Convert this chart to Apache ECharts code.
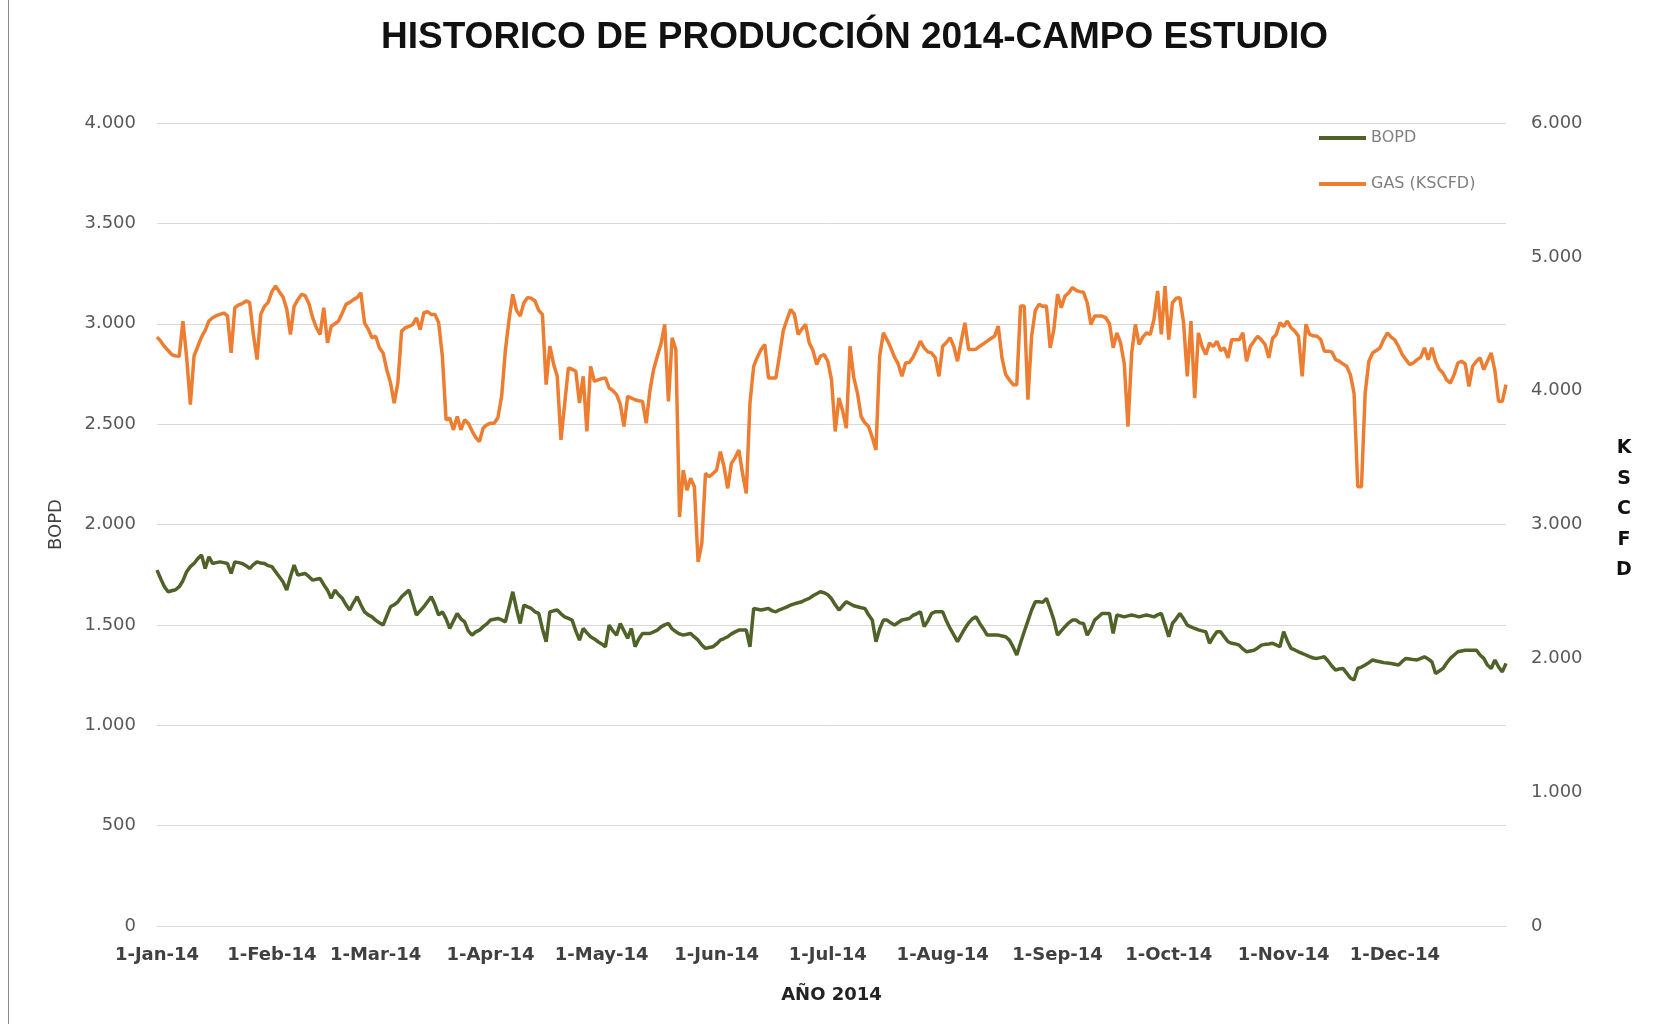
<!DOCTYPE html>
<html>
<head>
<meta charset="utf-8">
<title>Historico de produccion 2014</title>
<script src="https://cdn.jsdelivr.net/npm/echarts@6/dist/echarts.min.js"></script>
<style>
  html, body { margin: 0; padding: 0; background: #fff; }
  #main { width: 1661px; height: 1024px; }
</style>
</head>
<body>
<div id="main"></div>
<script>
// meses para las etiquetas del eje x
const monthNames = ['Jan', 'Feb', 'Mar', 'Apr', 'May', 'Jun', 'Jul', 'Aug', 'Sep', 'Oct', 'Nov', 'Dec'];

// produccion diaria de petroleo (BOPD), 1-Jan-14 .. 31-Dec-14
const bopd = [
  1773,1730,1690,1665,1670,1675,1690,1720,1765,1790,
  1806,1830,1848,1781,1839,1806,1810,1814,1810,1806,
  1756,1814,1810,1806,1795,1781,1800,1814,1808,1806,
  1795,1790,1765,1740,1715,1673,1740,1798,1748,1752,
  1756,1740,1723,1727,1731,1700,1673,1632,1673,1650,
  1632,1600,1574,1610,1640,1600,1565,1550,1540,1524,
  1510,1499,1545,1590,1600,1615,1640,1657,1673,1610,
  1549,1570,1590,1615,1640,1600,1549,1565,1530,1482,
  1520,1557,1530,1515,1470,1449,1465,1474,1491,1505,
  1524,1528,1532,1525,1515,1590,1665,1580,1507,1599,
  1590,1582,1565,1557,1480,1416,1565,1570,1574,1555,
  1540,1532,1524,1470,1424,1482,1460,1441,1430,1416,
  1405,1391,1499,1470,1449,1507,1470,1433,1482,1391,
  1430,1457,1457,1457,1465,1474,1490,1500,1507,1480,
  1466,1455,1449,1453,1457,1440,1424,1400,1383,1387,
  1391,1405,1424,1432,1441,1455,1465,1474,1474,1474,
  1391,1582,1578,1574,1578,1582,1570,1565,1575,1582,
  1590,1599,1605,1610,1615,1625,1632,1645,1655,1665,
  1660,1650,1630,1600,1574,1595,1615,1605,1595,1590,
  1585,1582,1550,1524,1416,1480,1524,1524,1510,1499,
  1512,1524,1528,1532,1548,1555,1565,1491,1520,1557,
  1565,1565,1565,1520,1482,1450,1416,1450,1482,1510,
  1530,1540,1507,1480,1449,1449,1449,1449,1445,1441,
  1424,1390,1350,1410,1466,1520,1574,1615,1615,1612,
  1632,1580,1524,1449,1470,1491,1510,1524,1524,1510,
  1507,1449,1480,1524,1540,1557,1557,1557,1457,1549,
  1545,1540,1545,1549,1545,1540,1545,1549,1545,1540,
  1550,1557,1500,1441,1507,1530,1557,1530,1499,1490,
  1482,1475,1470,1466,1408,1440,1466,1466,1440,1416,
  1408,1405,1399,1380,1366,1370,1374,1385,1399,1403,
  1405,1408,1400,1391,1466,1420,1383,1375,1366,1358,
  1350,1342,1335,1333,1337,1341,1320,1295,1275,1280,
  1283,1260,1235,1225,1283,1290,1300,1312,1325,1320,
  1316,1312,1310,1308,1304,1300,1318,1333,1330,1327,
  1325,1333,1341,1330,1316,1258,1270,1283,1310,1333,
  1350,1366,1370,1374,1374,1374,1374,1350,1333,1300,
  1283,1325,1290,1266,1308
];

// produccion diaria de gas (KSCFD)
const gas = [
  4400,4370,4330,4300,4270,4260,4257,4520,4250,3895,
  4260,4330,4400,4450,4520,4545,4560,4570,4580,4560,
  4282,4620,4640,4650,4670,4660,4420,4232,4570,4630,
  4660,4740,4782,4740,4700,4610,4420,4630,4680,4720,
  4710,4650,4545,4470,4420,4620,4357,4480,4500,4520,
  4580,4645,4660,4680,4695,4732,4507,4460,4395,4407,
  4320,4282,4157,4060,3907,4060,4445,4470,4480,4495,
  4545,4457,4582,4590,4570,4570,4507,4257,3782,3795,
  3707,3807,3707,3782,3757,3700,3650,3620,3720,3745,
  3757,3757,3800,3960,4300,4532,4720,4600,4557,4657,
  4695,4690,4670,4600,4570,4045,4332,4200,4107,3632,
  3900,4170,4160,4145,3907,4107,3695,4182,4070,4080,
  4090,4095,4020,4000,3970,3900,3732,3957,3945,3932,
  3925,3920,3757,4000,4157,4257,4350,4495,3920,4395,
  4307,3057,3407,3257,3345,3282,2720,2857,3382,3357,
  3380,3407,3545,3432,3270,3457,3500,3557,3382,3232,
  3907,4182,4250,4307,4345,4095,4095,4095,4270,4450,
  4532,4607,4570,4420,4460,4495,4357,4300,4195,4257,
  4270,4220,4082,3695,3945,3850,3720,4332,4100,3982,
  3807,3760,3732,3650,3557,4257,4432,4380,4320,4250,
  4200,4107,4207,4210,4250,4307,4370,4320,4290,4282,
  4245,4107,4332,4360,4395,4330,4220,4370,4507,4307,
  4307,4310,4332,4350,4370,4390,4407,4482,4245,4120,
  4080,4045,4045,4632,4632,3932,4407,4600,4645,4630,
  4632,4320,4457,4720,4620,4707,4730,4770,4750,4740,
  4735,4657,4495,4557,4557,4557,4545,4500,4320,4432,
  4357,4200,3732,4282,4495,4345,4400,4432,4420,4532,
  4745,4420,4782,4382,4657,4690,4695,4507,4107,4520,
  3945,4432,4330,4270,4357,4330,4370,4300,4320,4245,
  4382,4380,4380,4432,4220,4330,4370,4407,4380,4345,
  4245,4390,4420,4507,4480,4520,4470,4445,4407,4107,
  4495,4420,4410,4407,4382,4295,4295,4290,4232,4220,
  4200,4182,4120,3982,3282,3282,3982,4220,4282,4300,
  4320,4382,4432,4400,4380,4330,4270,4232,4195,4207,
  4232,4250,4320,4232,4320,4220,4160,4132,4080,4057,
  4120,4207,4220,4200,4032,4182,4220,4245,4157,4220,
  4282,4150,3920,3920,4045
];

// categorias: un dia por punto, texto tipo 1-Jan-14
const days = [];
for (let i = 0; i < bopd.length; i++) {
  const d = new Date(Date.UTC(2014, 0, 1 + i));
  days.push(d.getUTCDate() + '-' + monthNames[d.getUTCMonth()] + '-14');
}

// 4000 -> 4.000
function miles(v) {
  return String(v).replace(/\B(?=(\d{3})+(?!\d))/g, '.');
}

const chart = echarts.init(document.getElementById('main'));

let option = {
  animation: false,
  backgroundColor: '#fff',
  title: {
    text: 'HISTORICO DE PRODUCCIÓN 2014-CAMPO ESTUDIO',
    left: 376,
    top: 14,
    textStyle: {
      fontFamily: 'Liberation Sans Narrow, Liberation Sans, sans-serif',
      fontWeight: 'bold',
      fontSize: 37,
      color: '#111'
    }
  },
  legend: {
    orient: 'vertical',
    left: 1314,
    top: 125,
    itemWidth: 47,
    itemHeight: 4,
    itemGap: 30,
    icon: 'rect',
    textStyle: { fontFamily: 'DejaVu Sans', fontSize: 16, color: '#808080' },
    data: ['BOPD', 'GAS (KSCFD)']
  },
  grid: { left: 157, right: 155, top: 123, bottom: 98 },
  xAxis: {
    type: 'category',
    data: days,
    boundaryGap: false,
    name: 'AÑO 2014',
    nameLocation: 'middle',
    nameGap: 60,
    nameTextStyle: { fontFamily: 'DejaVu Sans', fontWeight: 'bold', fontSize: 18, color: '#222' },
    axisLine: { lineStyle: { color: '#d9d9d9' } },
    axisTick: { show: false },
    axisLabel: {
      interval: function (idx, val) { return val.indexOf('1-') === 0; },
      hideOverlap: false,
      margin: 20,
      fontFamily: 'DejaVu Sans',
      fontWeight: 'bold',
      fontSize: 18,
      color: '#404040'
    },
    splitLine: { show: false }
  },
  yAxis: [
    {
      type: 'value',
      min: 0,
      max: 4000,
      interval: 500,
      name: 'BOPD',
      nameLocation: 'middle',
      nameGap: 92,
      nameTextStyle: { fontFamily: 'DejaVu Sans', fontSize: 18, color: '#404040' },
      axisLine: { show: false },
      axisTick: { show: false },
      axisLabel: { formatter: miles, margin: 21, fontFamily: 'DejaVu Sans', fontSize: 18, color: '#595959' },
      splitLine: { lineStyle: { color: '#d9d9d9', width: 1 } }
    },
    {
      type: 'value',
      min: 0,
      max: 6000,
      interval: 1000,
      axisLine: { show: false },
      axisTick: { show: false },
      axisLabel: { formatter: miles, margin: 25, fontFamily: 'DejaVu Sans', fontSize: 18, color: '#595959' },
      splitLine: { show: false }
    }
  ],
  series: [
    {
      name: 'BOPD',
      type: 'line',
      data: bopd,
      yAxisIndex: 0,
      showSymbol: false,
      color: '#4F6228',
      lineStyle: { width: 3.5, color: '#4F6228' }
    },
    {
      name: 'GAS (KSCFD)',
      type: 'line',
      data: gas,
      yAxisIndex: 1,
      showSymbol: false,
      color: '#ED7D31',
      lineStyle: { width: 3.5, color: '#ED7D31' }
    }
  ],
  graphic: [
    {
      type: 'line',
      shape: { x1: 8.5, y1: 0, x2: 8.5, y2: 1024 },
      style: { stroke: '#8c8c8c', lineWidth: 1 }
    },
    {
      // titulo del eje derecho, letras apiladas
      type: 'text',
      x: 1624,
      y: 433,
      style: {
        text: 'K\nS\nC\nF\nD',
        font: 'bold 19px "DejaVu Sans"',
        lineHeight: 30.5,
        align: 'center',
        verticalAlign: 'top',
        fill: '#111'
      }
    }
  ]
};

chart.setOption(option);
</script>
</body>
</html>
